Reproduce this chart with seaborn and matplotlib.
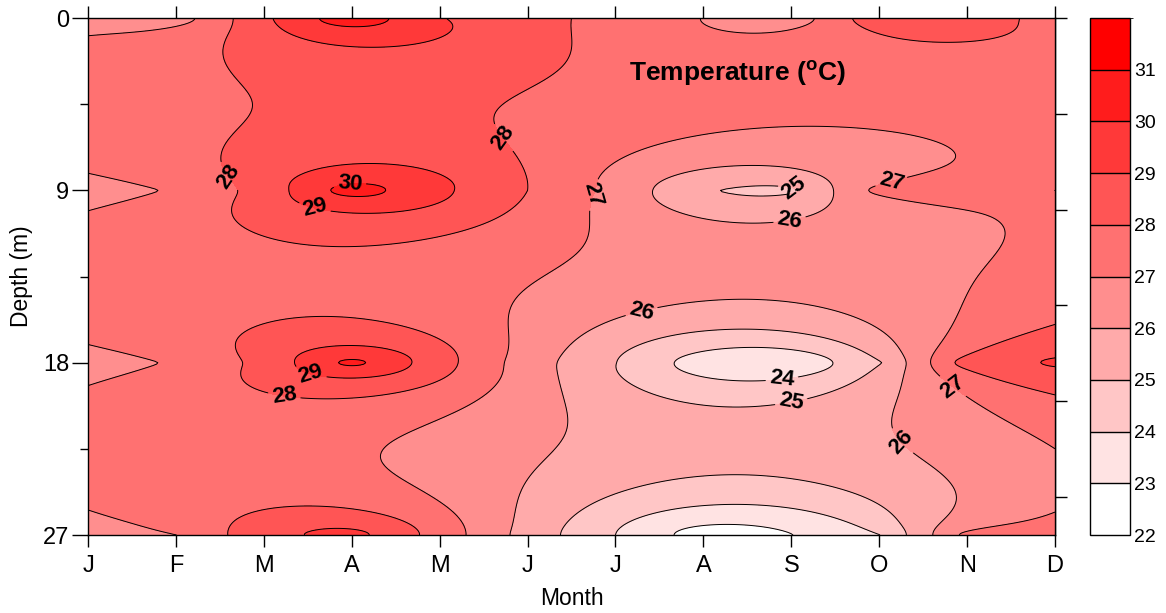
import numpy as np
import pandas as pd
import matplotlib
matplotlib.use("Agg")
import matplotlib.pyplot as plt
from matplotlib.colors import ListedColormap, BoundaryNorm
import seaborn as sns

# Monthly temperature profiles (ºC) at four sampling depths
months = ["J", "F", "M", "A", "M", "J", "J", "A", "S", "O", "N", "D"]
depths = [0, 9, 18, 27]
temp_0m = [26.95, 26.5, 28.8, 30.7, 29.05, 28.4, 27.6, 26.98, 26.4, 28.7, 28.6, 27.6]
temp_9m = [26.8, 27.05, 28.4, 30.5, 29.2, 28.0, 26.7, 25.05, 24.8, 27.3, 27.2, 27.0]
temp_18m = [26.8, 27.05, 28.3, 30.3, 28.4, 26.5, 25.02, 23.5, 23.2, 24.9, 28.5, 29.1]
temp_27m = [26.7, 26.99, 28.7, 29.35, 27.6, 25.6, 24.0, 22.5, 22.98, 23.97, 27.3, 27.15]

levels = list(range(22, 33))
level_colors = ["#ffffff", "#ffe3e3", "#ffc6c6", "#ffaaaa", "#ff8e8e",
                "#ff7171", "#ff5555", "#ff3939", "#ff1c1c", "#ff0000"]
cbar_ticks = list(range(22, 32))
depth_ticks = [0, 9, 18, 27]

# label anchor spots (month index, depth)
label_spots = [(1.59, 8.3), (4.74, 6.2), (2.98, 8.8), (2.58, 9.9), (5.73, 9.2),
               (8.04, 8.8), (7.99, 10.8), (9.1, 7.9), (6.29, 15.2), (2.53, 18.6),
               (2.23, 19.8), (7.9, 19.1), (8.01, 20.3), (9.44, 21.3), (9.86, 19.1)]

profiles = [temp_0m, temp_9m, temp_18m, temp_27m]
df = pd.DataFrame(
    [(mi, d, t) for d, row in zip(depths, profiles) for mi, t in enumerate(row)],
    columns=["month", "depth", "temp"],
)


def krige_linear(px, py, pz, gx, gy):
    """Ordinary kriging with a linear variogram (dual form)."""
    dist = np.hypot(px[:, None] - px[None, :], py[:, None] - py[None, :])
    n = len(pz)
    K = np.ones((n + 1, n + 1))
    K[:n, :n] = dist
    K[n, n] = 0.0
    coef = np.linalg.solve(K, np.append(pz, 0.0))
    dg = np.hypot(gx.ravel()[:, None] - px[None, :], gy.ravel()[:, None] - py[None, :])
    return (dg @ coef[:n] + coef[n]).reshape(gx.shape)


gx, gy = np.meshgrid(np.linspace(0, 11, 441), np.linspace(0, 27, 361))
Z = krige_linear(df["month"].to_numpy(float), df["depth"].to_numpy(float),
                 df["temp"].to_numpy(float), gx, gy)

sns.set_style("ticks")
plt.rcParams["font.family"] = ["Liberation Sans", "DejaVu Sans"]
plt.rcParams.update({
    "axes.edgecolor": "black", "xtick.color": "black", "ytick.color": "black",
    "axes.labelcolor": "black", "text.color": "black", "axes.linewidth": 1.0,
    "mathtext.fontset": "custom", "mathtext.rm": "Liberation Sans",
    "mathtext.bf": "Liberation Sans:bold",
})

fig = plt.figure(figsize=(11.66, 6.13), dpi=100)
ax = fig.add_axes([0.0755, 0.1272, 0.8293, 0.8434])

cmap = ListedColormap(level_colors)
norm = BoundaryNorm(levels, cmap.N)
cf = ax.contourf(gx, gy, Z, levels=levels, cmap=cmap, norm=norm)
cs = ax.contour(gx, gy, Z, levels=levels, colors="black", linewidths=0.7)
with plt.rc_context({"font.weight": "bold"}):
    texts = ax.clabel(cs, manual=label_spots, inline=True, fontsize=16,
                      fmt="%d", inline_spacing=4)
for t in texts:
    t.set_fontweight("bold")

ax.set_xlim(0, 11)
ax.set_ylim(27, 0)
ax.set_xticks(range(len(months)))
ax.set_xticklabels(months)
ax.set_yticks(depth_ticks)
ax.set_yticks([4.5, 13.5, 22.5], minor=True)
ax.tick_params(axis="x", which="both", direction="out", length=8.6, width=1,
               top=True, labeltop=False, labelsize=17, pad=6)
ax.tick_params(axis="y", which="major", direction="out", length=11.5, width=1,
               right=False, labelsize=17, pad=2)
ax.tick_params(axis="y", which="minor", direction="out", length=5.8, width=1, right=False)

sec = ax.secondary_yaxis("right")
sec.set_yticks([0, 5, 10, 15, 20, 25])
sec.set_yticklabels([])
sec.tick_params(direction="out", length=8.6, width=1)

ax.set_xlabel("Month", fontsize=16.5, labelpad=7)
ax.set_ylabel("Depth (m)", fontsize=16.5, labelpad=7)

ax.text(0.672, 0.894, r"Temperature ($^{\mathbf{o}}$C)", transform=ax.transAxes,
        ha="center", va="center", fontsize=19, fontweight="bold")

cax = fig.add_axes([0.9348, 0.1272, 0.0343, 0.8434])
cb = fig.colorbar(cf, cax=cax, ticks=cbar_ticks, drawedges=True)
cb.ax.tick_params(length=0, labelsize=14, pad=3)
cb.outline.set_linewidth(1.0)
cb.outline.set_edgecolor("black")
cb.dividers.set_color("black")
cb.dividers.set_linewidth(1.0)

fig.savefig("out.png", dpi=100)
